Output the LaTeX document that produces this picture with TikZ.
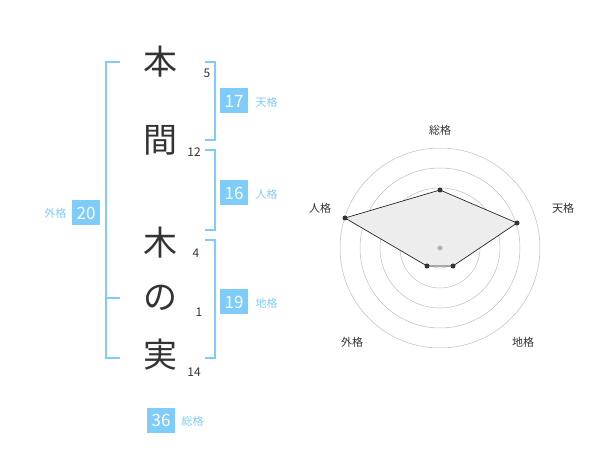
\documentclass[tikz,border=0pt]{standalone}
\usepackage{fontspec}
\setmainfont{Noto Sans CJK JP}
\begin{document}
\begin{tikzpicture}[x=1pt,y=-1pt,
  br/.style={draw=lb,line width=1.2pt},
  kanji/.style={font=\fontsize{34}{34}\selectfont,text=black!80},
  num/.style={font=\fontsize{12}{12}\selectfont,text=black!80},
  box/.style={fill=lb,text=white,minimum width=28,minimum height=25,inner sep=0,font=\fontsize{17}{17}\selectfont},
  lab/.style={text=lb,font=\fontsize{11}{11}\selectfont},
  rlab/.style={text=black!80,font=\fontsize{11}{11}\selectfont},
  pt/.style={circle,fill=black!80,inner sep=0,minimum size=5}]
\definecolor{lb}{HTML}{7FCCF8}
\useasboundingbox (0,0) rectangle (600,470);
% characters
\node[kanji] (c1) at (160,62) {本};
\node[kanji] (c2) at (160,140) {間};
\node[kanji] (c3) at (160,243) {木};
\node[kanji] (c4) at (160,298) {の};
\node[kanji] (c5) at (160,355) {実};
\node[num] (n1) at (207,73) {5};
\node[num] (n2) at (194,152) {12};
\node[num] (n3) at (196,253) {4};
\node[num] (n4) at (199,312) {1};
\node[num] (n5) at (194,372) {14};
% left bracket
\draw[br] (120,62) -- (106,62) -- (106,358) -- (120,358);
\draw[br] (106,298) -- (120,298);
\node[box] (b20) at (86,213) {20};
\node[lab,anchor=east] (l20) at (70,213) {外格};
% right brackets
\draw[br] (205,62) -- (215,62) -- (215,140) -- (205,140);
\node[box] (b17) at (234,101) {17};
\node[lab,anchor=west] (l17) at (252,102) {天格};
\draw[br] (205,150) -- (215,150) -- (215,230) -- (205,230);
\node[box] (b16) at (234,193) {16};
\node[lab,anchor=west] (l16) at (252,194) {人格};
\draw[br] (205,240) -- (215,240) -- (215,358) -- (205,358);
\node[box] (b19) at (234,302) {19};
\node[lab,anchor=west] (l19) at (252,303) {地格};
\node[box] (b36) at (161,420) {36};
\node[lab,anchor=west] (l36) at (178,421) {総格};
% radar
\coordinate (O) at (440,248);
\foreach \r in {20,40,60,80,100} \draw[black!25,line width=0.5pt] (O) circle[radius=\r];
\node[rlab] (a1) at (440,130) {総格};
\node[rlab] (a2) at (563,208) {天格};
\node[rlab] (a3) at (523,342) {地格};
\node[rlab] (a4) at (352,342) {外格};
\node[rlab] (a5) at (320,208) {人格};
\coordinate (p1) at (440,190);
\coordinate (p2) at (517,223);
\coordinate (p3) at (453,266);
\coordinate (p4) at (427,266);
\coordinate (p5) at (345,218);
\draw[black!85,fill=black!7,line width=0.7pt] (p1)--(p2)--(p3)--(p4)--(p5)--cycle;
\foreach \p in {p1,p2,p3,p4,p5} \node[pt] at (\p) {};
\node[circle,fill=black!30,inner sep=0,minimum size=5] (ctr) at (O) {};
\end{tikzpicture}
\end{document}
